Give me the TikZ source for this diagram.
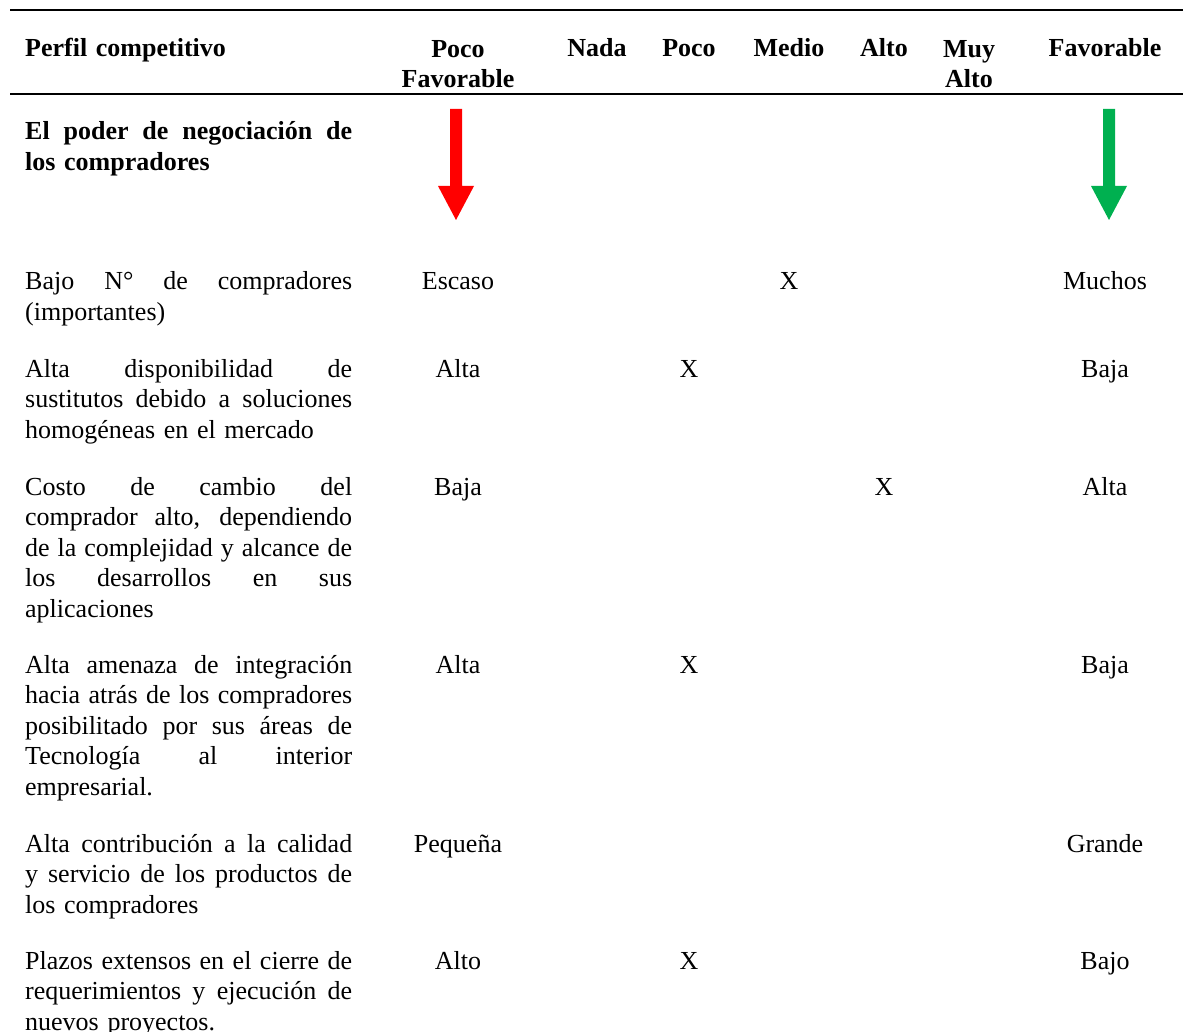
\documentclass[tikz,border=0pt]{standalone}
\usepackage{fontspec}
\setmainfont{Liberation Serif}
\newcommand{\tabfont}{\fontsize{26}{30.5}\selectfont}
\newlength{\labw}\setlength{\labw}{327pt}
% justified line: align=left fixes \spaceskip, so give it stretch again
\newcommand{\jl}[1]{{\spaceskip=0.25em plus 2em minus 0.1em\makebox[\labw][s]{#1}}}
\definecolor{arrowred}{HTML}{FF0000}
\definecolor{arrowgreen}{HTML}{00B050}
\tikzset{
  lab/.style={anchor=base west, inner sep=0pt, text width=\labw, align=left, font=\tabfont},
  val/.style={anchor=base, inner sep=0pt, font=\tabfont},
  hd/.style={anchor=base, inner sep=0pt, align=center, font=\tabfont\bfseries},
  rule/.style={line width=2pt}
}
\begin{document}
\begin{tikzpicture}[x=1pt,y=-1pt]
\useasboundingbox (0,0) rectangle (1183,1032);
% rules
\coordinate(T1) at (10,10);
\coordinate(T2) at (1183,10);
\coordinate(M1) at (10,94);
\coordinate(M2) at (1183,94);
\draw[rule] (T1) -- (T2);
\draw[rule] (M1) -- (M2);
% header (two-line cells sit on their last line)
\node[lab, font=\tabfont\bfseries](H) at (25,57) {Perfil competitivo};
\node[hd](Hpf) at (458,88) {Poco\\Favorable};
\node[hd](Hn) at (597,57) {Nada};
\node[hd](Hp) at (689,57) {Poco};
\node[hd](Hm) at (789,57) {Medio};
\node[hd](Ha) at (884,57) {Alto};
\node[hd](Hma) at (969,88) {Muy\\Alto};
\node[hd](Hf) at (1105,57) {Favorable};
% section
\node[lab, font=\tabfont\bfseries](S) at (25,140) {\jl{El poder de negociación de}\\los compradores};
\fill[arrowred] (450,109) -- (462,109) -- (462,186) -- (474,186) -- (456,220) -- (438,186) -- (450,186) -- cycle;
\fill[arrowgreen] (1103,109) -- (1115,109) -- (1115,186) -- (1127,186) -- (1109,220) -- (1091,186) -- (1103,186) -- cycle;
% rows
\node[lab](r1) at (25,290) {\jl{Bajo N° de compradores}\\(importantes)};
\node[val](r1a) at (458,290) {Escaso};
\node[val](r1x) at (789,290) {X};
\node[val](r1b) at (1105,290) {Muchos};
\node[lab](r2) at (25,377) {\jl{Alta disponibilidad de}\\\jl{sustitutos debido a soluciones}\\homogéneas en el mercado};
\node[val](r2a) at (458,377) {Alta};
\node[val](r2x) at (689,377) {X};
\node[val](r2b) at (1105,377) {Baja};
\node[lab](r3) at (25,495) {\jl{Costo de cambio del}\\\jl{comprador alto, dependiendo}\\\jl{de la complejidad y alcance de}\\\jl{los desarrollos en sus}\\aplicaciones};
\node[val](r3a) at (458,495) {Baja};
\node[val](r3x) at (884,495) {X};
\node[val](r3b) at (1105,495) {Alta};
\node[lab](r4) at (25,673) {\jl{Alta amenaza de integración}\\\jl{hacia atrás de los compradores}\\\jl{posibilitado por sus áreas de}\\\jl{Tecnología al interior}\\empresarial.};
\node[val](r4a) at (458,673) {Alta};
\node[val](r4x) at (689,673) {X};
\node[val](r4b) at (1105,673) {Baja};
\node[lab](r5) at (25,852) {\jl{Alta contribución a la calidad}\\\jl{y servicio de los productos de}\\los compradores};
\node[val](r5a) at (458,852) {Pequeña};
\node[val](r5b) at (1105,852) {Grande};
\node[lab](r6) at (25,969) {\jl{Plazos extensos en el cierre de}\\\jl{requerimientos y ejecución de}\\nuevos proyectos.};
\node[val](r6a) at (458,969) {Alto};
\node[val](r6x) at (689,969) {X};
\node[val](r6b) at (1105,969) {Bajo};
\end{tikzpicture}
\end{document}
